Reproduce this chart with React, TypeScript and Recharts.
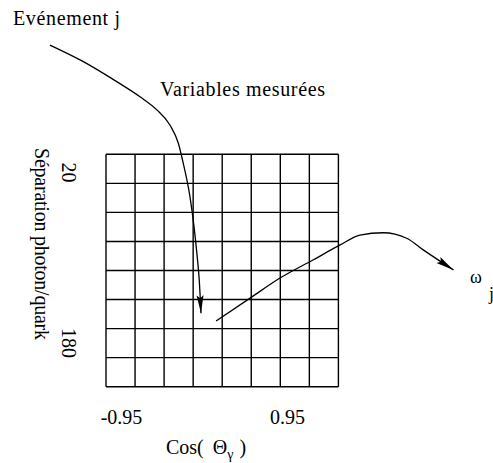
import { LineChart, Line, XAxis, YAxis, ReferenceLine } from "recharts";

// grid geometry (8 x 8 cells), data below is in cell units
const CELL_PX = 29.05;
const GRID_LEFT = 106;
const GRID_TOP = 154.3;
const W = 493;
const H = 463;

const gridLines = [0, 1, 2, 3, 4, 5, 6, 7, 8];

// "Evénement j" arrow, entering the grid
const eventU = [-1.93, -0.78, 0.37, 1.17, 1.75, 2.2, 2.49, 2.66, 2.89, 3.03, 3.14, 3.21, 3.27];
const eventV = [-3.76, -3.19, -2.5, -1.98, -1.53, -1.01, -0.38, 0.31, 1.46, 2.49, 3.53, 4.33, 5.47];

// arrow leaving the grid towards omega_j
const weightU = [3.79, 4.96, 5.99, 7.14, 8.06, 8.74, 9.54, 10.35, 10.92, 11.96];
const weightV = [5.74, 4.95, 4.26, 3.63, 3.12, 2.78, 2.7, 2.89, 3.29, 3.98];

const xTickLabels = ["-0.95", "0.95"];
const yTickLabels = ["20", "180"];

const eventData = eventU.map((u, i) => ({ u, v: eventV[i] }));
const weightData = weightU.map((u, i) => ({ u, v: weightV[i] }));

const xDomain = [-GRID_LEFT / CELL_PX, (W - GRID_LEFT) / CELL_PX];
const yDomain = [-GRID_TOP / CELL_PX, (H - GRID_TOP) / CELL_PX];

const serif = { fontFamily: '"Liberation Serif", "Times New Roman", Times, serif' };

// filled arrowhead drawn on the last point of a line, pointing along the last segment
function ArrowHead(props: any) {
  const { index, points, cx, cy } = props;
  if (!points || index !== points.length - 1) return <g key={"d" + index} />;
  const prev = points[index - 1];
  const ang = (Math.atan2(cy - prev.y, cx - prev.x) * 180) / Math.PI;
  return (
    <path
      key={"d" + index}
      d="M0,0 L-18,-3.5 L-15,0 L-18,3.5 Z"
      fill="#000"
      transform={`translate(${cx},${cy}) rotate(${ang})`}
    />
  );
}

export default function App() {
  return (
    <div style={{ position: "absolute", left: 0, top: 0, background: "#fff" }}>
      <LineChart width={W} height={H} margin={{ top: 0, right: 0, bottom: 0, left: 0 }}>
        <XAxis type="number" dataKey="u" domain={xDomain} allowDataOverflow hide />
        <YAxis type="number" dataKey="v" domain={yDomain} allowDataOverflow reversed hide />
        {gridLines.map((i) => (
          <ReferenceLine
            key={"c" + i}
            segment={[{ x: i, y: 0 }, { x: i, y: 8 }]}
            stroke="#000"
            strokeWidth={1.4}
          />
        ))}
        {gridLines.map((i) => (
          <ReferenceLine
            key={"r" + i}
            segment={[{ x: 0, y: i }, { x: 8, y: i }]}
            stroke="#000"
            strokeWidth={1.4}
          />
        ))}
        <Line
          data={eventData}
          dataKey="v"
          type="monotone"
          stroke="#000"
          strokeWidth={1.3}
          dot={ArrowHead}
          activeDot={false}
          isAnimationActive={false}
        />
        <Line
          data={weightData}
          dataKey="v"
          type="monotone"
          stroke="#000"
          strokeWidth={1.3}
          dot={ArrowHead}
          activeDot={false}
          isAnimationActive={false}
        />
        <g fill="#000" fontSize={20}>
          <text x={13} y={24.5} style={serif} textLength={107} lengthAdjust="spacing">
            Evénement j
          </text>
          <text x={160} y={96} style={serif} textLength={165} lengthAdjust="spacing">
            Variables mesurées
          </text>
          <text
            transform="translate(34.5,244) rotate(90)"
            textAnchor="middle"
            style={serif}
            textLength={192}
            lengthAdjust="spacing"
          >
            Séparation photon/quark
          </text>
          <text transform="translate(62,172.5) rotate(90)" textAnchor="middle" style={serif}>
            {yTickLabels[0]}
          </text>
          <text transform="translate(62,343) rotate(90)" textAnchor="middle" style={serif}>
            {yTickLabels[1]}
          </text>
          <text x={121.5} y={423.5} textAnchor="middle" style={serif}>
            {xTickLabels[0]}
          </text>
          <text x={287.5} y={423.5} textAnchor="middle" style={serif}>
            {xTickLabels[1]}
          </text>
          <text x={166} y={453.5} style={serif}>
            Cos(
            <tspan dx={9}>Θ</tspan>
            <tspan dy={5} fontSize={14}>γ</tspan>
            <tspan dy={-5} dx={6}>)</tspan>
          </text>
          <text x={470} y={283} fontSize={18} style={serif}>
            ω
          </text>
          <text x={489} y={300} fontSize={18} style={serif}>
            j
          </text>
        </g>
      </LineChart>
    </div>
  );
}
